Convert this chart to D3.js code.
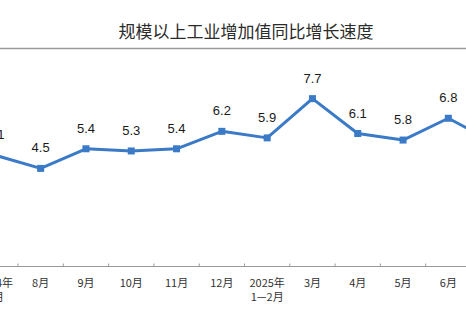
<!DOCTYPE html>
<html>
<head>
<meta charset="utf-8">
<script src="https://cdn.jsdelivr.net/npm/d3@7"></script>
<style>
  html, body { margin: 0; padding: 0; background: #fff; }
  svg { display: block; overflow: hidden; }
</style>
</head>
<body>
<svg id="chart" width="466" height="324"></svg>
<script>
// Monthly year-on-year growth of industrial value added above designated size (%)
const categories = ["2024年|7月", "8月", "9月", "10月", "11月", "12月", "2025年|1—2月", "3月", "4月", "5月", "6月", "7月"];
const growth = [5.1, 4.5, 5.4, 5.3, 5.4, 6.2, 5.9, 7.7, 6.1, 5.8, 6.8, 5.7];
const yTicks = [0, 10];
const title = "规模以上工业增加值同比增长速度";

const svg = d3.select("#chart");
const W = 466, H = 324;

const step = 45.3;
const x = d3.scaleBand()
  .domain(categories)
  .range([18 - step, 18 - step + step * categories.length])
  .paddingInner(0).paddingOuter(0);

const y = d3.scaleLinear().domain([0, 10]).range([266.5, 48.5]);

// Title
svg.append("text")
  .attr("x", 246).attr("y", 38)
  .attr("text-anchor", "middle")
  .attr("font-family", "'Noto Sans CJK SC', sans-serif")
  .attr("font-size", 17)
  .attr("fill", "#2b2b2b")
  .text(title);

// Top rule of the plot area
svg.append("line")
  .attr("x1", 0).attr("x2", W)
  .attr("y1", y(yTicks[1])).attr("y2", y(yTicks[1]))
  .attr("stroke", "#9a9a9a").attr("stroke-width", 1.5);

// Category axis
const xAxis = d3.axisBottom(x).tickSize(0).tickFormat("");
const gx = svg.append("g").attr("transform", `translate(0,${y(yTicks[0])})`).call(xAxis);
gx.select(".domain").remove();
gx.append("line")
  .attr("x1", 0).attr("x2", W)
  .attr("stroke", "#9a9a9a").attr("stroke-width", 1.2);

// Tick marks at category boundaries
const bounds = categories.map(c => x(c)).concat([x(categories[categories.length - 1]) + x.bandwidth()]);
svg.append("g").selectAll("line").data(bounds).join("line")
  .attr("x1", d => d).attr("x2", d => d)
  .attr("y1", y(0) - 3).attr("y2", y(0))
  .attr("stroke", "#9a9a9a").attr("stroke-width", 1);

// Category labels, one text per line
const lines = [];
categories.forEach(c => {
  c.split("|").forEach((p, i) => lines.push({ c, p, i }));
});
svg.append("g")
  .attr("font-family", "'Noto Sans CJK SC', sans-serif")
  .attr("font-size", 11)
  .attr("fill", "#333")
  .selectAll("text").data(lines).join("text")
  .attr("x", d => x(d.c) + x.bandwidth() / 2)
  .attr("y", d => 287 + d.i * 14)
  .attr("text-anchor", "middle")
  .text(d => d.p);

// Series line
const pts = categories.map((c, i) => ({ c, v: growth[i] }));
const cx = d => x(d.c) + x.bandwidth() / 2;

svg.append("path")
  .datum(pts)
  .attr("fill", "none")
  .attr("stroke", "#3a7ac6")
  .attr("stroke-width", 3)
  .attr("stroke-linejoin", "round")
  .attr("d", d3.line().x(cx).y(d => y(d.v)));

svg.append("g").selectAll("rect").data(pts).join("rect")
  .attr("x", d => cx(d) - 3.5)
  .attr("y", d => y(d.v) - 3.5)
  .attr("width", 7).attr("height", 7)
  .attr("fill", "#3a7ac6");

// Value labels
svg.append("g").selectAll("text").data(pts).join("text")
  .attr("x", cx)
  .attr("y", d => y(d.v) - 16)
  .attr("text-anchor", "middle")
  .attr("font-family", "'Liberation Sans', Arial, sans-serif")
  .attr("font-size", 13)
  .attr("fill", "#1a1a1a")
  .text(d => d.v.toFixed(1));
</script>
</body>
</html>
